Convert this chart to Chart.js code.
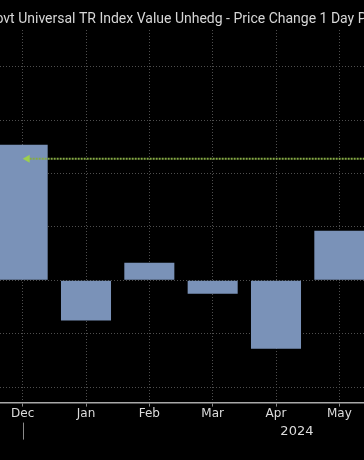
<!DOCTYPE html>
<html>
<head>
<meta charset="utf-8">
<script src="https://cdn.jsdelivr.net/npm/chart.js@4"></script>
<style>
html,body{margin:0;padding:0;background:#000;overflow:hidden;width:364px;height:460px;}
#wrap{position:absolute;left:-20px;top:0;width:400px;height:460px;}
</style>
</head>
<body>
<div id="wrap"><canvas id="c" width="400" height="460"></canvas></div>
<script>
const titleText = "ovt Universal TR Index Value Unhedg - Price Change 1 Day P";
const months = ["Dec", "Jan", "Feb", "Mar", "Apr", "May"];
const changes = [2.54, -0.75, 0.33, -0.25, -1.28, 0.93];
const yearLabel = "2024";
const refLevel = 2.28;
const yTicks = [-2, -1, 0, 1, 2, 3, 4];

const extras = {
  id: 'extras',
  afterDatasetsDraw(chart) {
    const ctx = chart.ctx, x = chart.scales.x, y = chart.scales.y, ca = chart.chartArea;
    const yy = y.getPixelForValue(refLevel);
    const x0 = x.getPixelForValue(0);
    ctx.save();
    ctx.strokeStyle = '#86ab45';
    ctx.lineWidth = 2;
    ctx.setLineDash([2, 1]);
    ctx.beginPath();
    ctx.moveTo(x0 + 4, yy);
    ctx.lineTo(ca.right, yy);
    ctx.stroke();
    ctx.setLineDash([]);
    ctx.fillStyle = '#9ccf4e';
    ctx.beginPath();
    ctx.moveTo(x0, yy);
    ctx.lineTo(x0 + 7, yy - 4);
    ctx.lineTo(x0 + 7, yy + 4);
    ctx.closePath();
    ctx.fill();
    ctx.restore();
  },
  afterDraw(chart) {
    const ctx = chart.ctx, x = chart.scales.x, ca = chart.chartArea;
    const xd = x.getPixelForValue(0);
    ctx.save();
    ctx.strokeStyle = '#8a8a8a';
    ctx.lineWidth = 1;
    ctx.beginPath();
    ctx.moveTo(Math.round(xd) + 0.5, ca.bottom + 20);
    ctx.lineTo(Math.round(xd) + 0.5, ca.bottom + 37);
    ctx.stroke();
    ctx.fillStyle = '#dcdcdc';
    ctx.font = '13px "DejaVu Sans"';
    ctx.textAlign = 'center';
    ctx.textBaseline = 'middle';
    ctx.fillText(yearLabel, x.getPixelForValue(4.33), ca.bottom + 29);
    ctx.restore();
  }
};

new Chart(document.getElementById('c'), {
  type: 'bar',
  data: {
    labels: months,
    datasets: [{
      data: changes,
      backgroundColor: '#7a92b8',
      borderWidth: 0,
      categoryPercentage: 1,
      barPercentage: 0.79
    }]
  },
  options: {
    responsive: false,
    animation: false,
    devicePixelRatio: 1,
    layout: { padding: { left: 11, right: 9, top: 0, bottom: 39 } },
    plugins: {
      legend: { display: false },
      tooltip: { enabled: false },
      title: {
        display: true,
        text: titleText,
        color: '#d6d6d6',
        font: { family: 'Roboto', size: 14, weight: 'normal' },
        padding: { top: 11, bottom: 2.2 }
      }
    },
    scales: {
      x: {
        offset: true,
        grid: {
          color: '#4e4e4e',
          tickColor: '#8a8a8a',
          tickLength: 4,
          offset: false
        },
        border: { display: true, color: '#a8a8a8', width: 1.5, dash: [1, 2] },
        ticks: {
          color: '#dcdcdc',
          font: { family: 'DejaVu Sans', size: 12 },
          padding: 0,
          maxRotation: 0
        }
      },
      y: {
        position: 'right',
        min: -2.29,
        max: 4.69,
        afterBuildTicks: (s) => { s.ticks = yTicks.map(v => ({ value: v })); },
        grid: { color: '#4e4e4e', drawTicks: false },
        border: { display: false, dash: [1, 2] },
        ticks: { display: false }
      }
    }
  },
  plugins: [extras]
});
</script>
</body>
</html>
